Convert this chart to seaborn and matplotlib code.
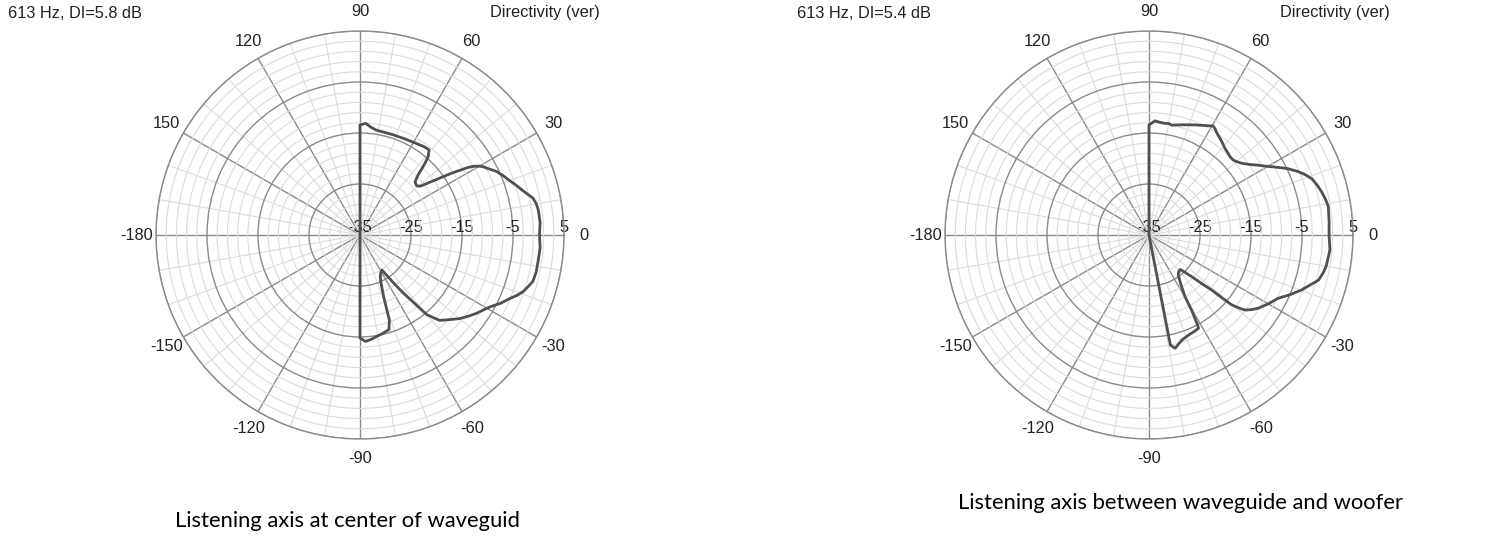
import numpy as np
import pandas as pd
import matplotlib
matplotlib.use("Agg")
import matplotlib.pyplot as plt
import seaborn as sns

# ---------------- data ----------------
left_angles = [-92, -90, -87, -84, -81, -77, -73, -71, -69, -66, -64, -61, -58, -56.5, -55,
               -53.5, -52, -50, -47, -43, -40, -37, -34, -31, -29, -26, -23, -21, -19, -17,
               -15, -12, -8, -4, 0, 4, 8, 10, 12, 15, 17.5, 20, 22.5, 25, 27, 29, 30, 31,
               32, 34, 36, 39, 41, 44, 46, 47, 48, 49, 51, 54, 58, 65, 72, 77, 81, 84, 87,
               90, 92]
left_db = [-35, -14.8, -14.1, -14.4, -14.8, -15.2, -15.6, -17.3, -22.1, -25.0, -25.9, -26.6,
           -26.9, -25.6, -23.5, -21.2, -18.9, -14.6, -12.1, -10.7, -9.5, -8.5, -7.5, -6.6,
           -5.9, -4.4, -3.1, -2.0, -1.1, -0.5, 0.1, 0.3, 0.3, 0.4, 0.2, 0.4, 0.3, 0.1, -0.3,
           -1.8, -2.8, -3.8, -4.6, -5.5, -6.5, -7.4, -8.0, -8.8, -10.0, -13.3, -16.5, -19.8,
           -20.3, -20.0, -18.6, -17.2, -15.8, -14.6, -13.5, -13.6, -13.9, -14.2, -14.3, -14.3,
           -14.2, -13.8, -13.1, -13.4, -35]

right_angles = [-82, -79, -77, -75, -72.7, -68.5, -65, -62, -61.5, -60.5, -59.7, -57, -53.8,
                -50.5, -47.9, -46, -44.3, -42.7, -41.3, -40.7, -40.2, -39, -38, -36, -33.8,
                -30, -26.1, -23, -19.8, -17, -14.9, -12, -9.6, -4.7, 0, 4, 9, 11.5, 14, 16.5,
                19, 21, 23, 25.5, 27.6, 30, 32.6, 35, 37.7, 40, 41.7, 44, 46, 48.8, 52.5,
                56.3, 58, 59.5, 63, 67.3, 73, 78.3, 80, 81.8, 84.5, 87, 90, 92]
right_db = [-35, -13.0, -12.2, -12.8, -13.4, -13.9, -14.1, -14.3, -15.3, -18.0, -21.0, -23.6,
            -25.3, -25.8, -25.9, -24.8, -23.3, -21.0, -18.7, -16.0, -13.8, -12.2, -11.1, -10.1,
            -9.2, -8.0, -6.8, -5.0, -3.2, -1.8, -0.6, 0.0, 0.3, 0.6, 0.3, 0.4, 0.6, 0.3, -0.1,
            -0.6, -1.2, -2.1, -3.2, -4.8, -6.4, -8.1, -9.6, -10.9, -12.0, -12.6, -12.9, -12.9,
            -12.7, -12.4, -11.7, -11.0, -10.5, -10.2, -10.9, -11.6, -12.4, -13.0, -12.8, -12.9,
            -12.8, -12.6, -13.4, -35]

theta_ticks = [0, 30, 60, 90, 120, 150, 180, 210, 240, 270, 300, 330]
theta_labels = ["0", "30", "60", "90", "120", "150", "-180", "-150", "-120", "-90", "-60", "-30"]
r_ticks = [-35, -25, -15, -5, 5]
r_labels = ["-35", "-25", "-15", "-5", "5"]
r_minor = [-33, -31, -29, -27, -23, -21, -19, -17, -13, -11, -9, -7, -3, -1, 1, 3]
theta_minor = [a for a in range(0, 360, 10) if a % 30 != 0]

headers_left = ["613 Hz, DI=5.8 dB", "Directivity (ver)"]
headers_right = ["613 Hz, DI=5.4 dB", "Directivity (ver)"]
caption_left = "Listening axis at center of waveguid"
caption_right = "Listening axis between waveguide and woofer"

# ---------------- style ----------------
sns.set_theme(style="white")
plt.rcParams["font.family"] = ["Liberation Sans", "DejaVu Sans"]

W, H = 1512, 548
fig = plt.figure(figsize=(W / 100, H / 100), dpi=100)
fig.patch.set_facecolor("white")

R = 204  # outer radius in px
FS = 11.8
TXT = "#222222"


def make_polar(cx, cy, angles, db):
    ax = fig.add_axes([(cx - R) / W, (H - cy - R) / H, 2 * R / W, 2 * R / H],
                      projection="polar")
    ax.set_facecolor("white")
    df = pd.DataFrame({"theta": np.deg2rad(angles), "db": db})
    sns.lineplot(data=df, x="theta", y="db", ax=ax, color="#505050", linewidth=2.0,
                 sort=False, estimator=None)
    ax.set_xlabel("")
    ax.set_ylabel("")
    ax.set_ylim(-35, 5)
    ax.set_xticks(np.deg2rad(theta_ticks))
    ax.set_xticklabels(theta_labels, fontsize=FS, color=TXT)
    ax.set_xticks(np.deg2rad(theta_minor), minor=True)
    ax.set_yticks(r_ticks)
    ax.set_yticklabels(r_labels, fontsize=FS, color=TXT)
    ax.set_yticks(r_minor, minor=True)
    ax.set_rlabel_position(0)
    for lab in ax.get_yticklabels():
        lab.set_ha("center")
        lab.set_va("bottom")
    ax.tick_params(axis="x", which="both", length=0, pad=7)
    ax.tick_params(axis="y", which="both", length=0, pad=3)
    ax.grid(which="major", color="#8a8a8a", linewidth=1.0)
    ax.grid(which="minor", color="#dcdcdc", linewidth=0.8)
    ax.spines["polar"].set_color("#8a8a8a")
    ax.spines["polar"].set_linewidth(1.0)
    ax.set_axisbelow(True)
    return ax


ax1 = make_polar(360, 235, left_angles, left_db)
ax2 = make_polar(1149, 235, right_angles, right_db)

fig.text(8 / W, 1 - 13 / H, headers_left[0], ha="left", va="center", fontsize=FS, color=TXT)
fig.text(600 / W, 1 - 13 / H, headers_left[1], ha="right", va="center", fontsize=FS, color=TXT)
fig.text(797 / W, 1 - 13 / H, headers_right[0], ha="left", va="center", fontsize=FS, color=TXT)
fig.text(1390 / W, 1 - 13 / H, headers_right[1], ha="right", va="center", fontsize=FS, color=TXT)

fig.text(347 / W, 1 - 521 / H, caption_left, ha="center", va="center", fontsize=15.8,
         family=["Lato", "DejaVu Sans"], color="black")
fig.text(1181 / W, 1 - 503 / H, caption_right, ha="center", va="center", fontsize=15.8,
         family=["Lato", "DejaVu Sans"], color="black")

fig.savefig("out.png", dpi=100, facecolor="white")
